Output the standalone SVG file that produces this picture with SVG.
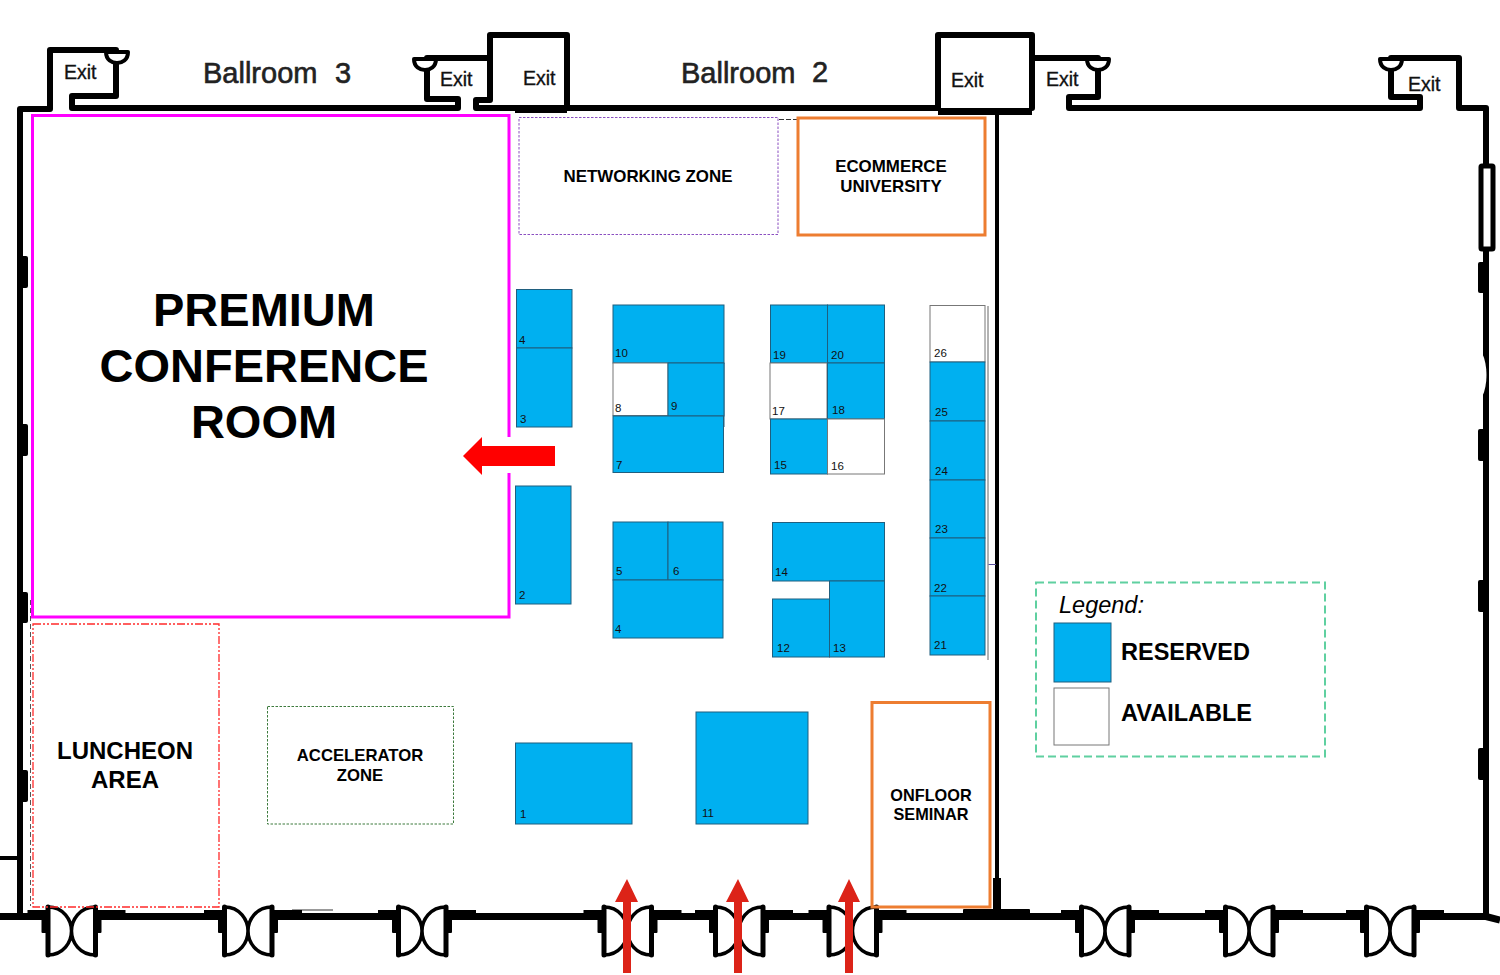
<svg xmlns="http://www.w3.org/2000/svg" width="1500" height="975" viewBox="0 0 1500 975">
<style>
text{font-family:"Liberation Sans",Arial,sans-serif;fill:#000}
.wall{fill:none;stroke:#000;stroke-width:6;stroke-linejoin:round;stroke-linecap:round}
.blk{fill:#000}
.door{fill:none;stroke:#000;stroke-width:3.500}
.jamb{fill:none;stroke:#000;stroke-width:5;stroke-linecap:round}
.b{fill:#00b0f0;stroke:#1f5f7f;stroke-width:1}
.a{fill:#fff;stroke:#777;stroke-width:1}
.n{font-size:11.500px;fill:#111}
.ex{font-size:19.500px;fill:#111;stroke:#111;stroke-width:.35}
.bal{font-size:29px;fill:#222;stroke:#222;stroke-width:.6}
.c{text-anchor:middle;font-weight:bold}
.up{fill:#dc2318}
</style>
<defs>
<g id="door">
<rect x="-24" y="905" width="48" height="52" fill="#fff"/>
<path class="jamb" d="M-23.500 907V955M24 907V955"/>
<path class="door" d="M-23.500 907C-8 907 0 920 0 931C0 942-8 955-23.500 955M24 907C8 907 0 920 0 931C0 942 8 955 24 955"/>
<rect class="blk" x="-30" y="910" width="7" height="23" rx="1"/>
<rect class="blk" x="24" y="910" width="6" height="23" rx="1"/>
<rect class="blk" x="-44" y="910" width="18" height="8"/>
<rect class="blk" x="26" y="910" width="28" height="8"/>
</g>
<path id="lamp" d="M-11 0H11C11 8 5 11 0 11C-5 11-11 8-11 0Z" fill="#fff" stroke="#000" stroke-width="4" stroke-linejoin="round"/>
</defs>

<g id="walls">
<path class="wall" d="M0 858H19" style="stroke-width:4;stroke-linecap:butt"/>
<path class="wall" d="M20 915V109H50V50H116V96H72V108H458V99H427V58H490V100H476V108H938V35H1032V108M490 58V35H567V108H476M567 108H938M1032 58H1098V97H1069V108H1420V97H1391V58H1459V108H1486V915"/>
<path class="wall" style="stroke-width:7;stroke-linecap:butt" d="M0 916.500H1486L1500 920"/>
<path class="wall" style="stroke-width:4;stroke-linecap:butt" d="M997 110V880"/>
<rect class="blk" x="993" y="878" width="8" height="34"/>
<rect class="blk" x="963" y="909" width="67" height="6" rx="1"/>
<rect class="blk" x="938" y="108" width="94" height="7"/>
<rect class="blk" x="515" y="108" width="52" height="5"/>
<rect class="blk" x="20" y="256" width="8" height="32" rx="2"/>
<rect class="blk" x="20" y="424" width="8" height="32" rx="2"/>
<rect class="blk" x="20" y="592" width="8" height="31" rx="2"/>
<rect class="blk" x="20" y="770" width="8" height="32" rx="2"/>
<rect x="1481" y="166" width="12" height="83" fill="#fff" stroke="#000" stroke-width="5" rx="1"/>
<rect class="blk" x="1478" y="262" width="8" height="31" rx="2"/>
<rect class="blk" x="1478" y="429" width="8" height="32" rx="2"/>
<rect class="blk" x="1478" y="580" width="8" height="32" rx="2"/>
<rect class="blk" x="1478" y="748" width="8" height="32" rx="2"/>
<path d="M1482 353C1488 365 1488 385 1482 397Z" fill="#fff"/>
<path d="M292 910H333" stroke="#777" stroke-width="1.500"/>
<use href="#door" x="71.500"/>
<use href="#door" x="248"/>
<use href="#door" x="422"/>
<use href="#door" x="627.500"/>
<use href="#door" x="739"/>
<use href="#door" x="852.500"/>
<use href="#door" x="1105"/>
<use href="#door" x="1249"/>
<use href="#door" x="1390"/>
<use href="#lamp" x="117" y="52"/>
<use href="#lamp" x="425" y="59"/>
<use href="#lamp" x="1098" y="59"/>
<use href="#lamp" x="1391" y="59"/>
<text class="ex" x="64" y="79">Exit</text>
<text class="ex" x="440" y="86">Exit</text>
<text class="ex" x="523" y="85">Exit</text>
<text class="ex" x="951" y="87">Exit</text>
<text class="ex" x="1046" y="86">Exit</text>
<text class="ex" x="1408" y="91">Exit</text>
<text class="bal" x="203" y="83">Ballroom</text>
<text class="bal" x="335" y="83">3</text>
<text class="bal" x="681" y="83">Ballroom</text>
<text class="bal" x="812" y="82">2</text>
</g>

<g id="zones">
<g id="premium-room">
<path d="M509 437V115.500H32.500V617H509V473" fill="none" stroke="#ff00ff" stroke-width="3"/>
<text class="c" x="264" y="326" font-size="47">PREMIUM</text>
<text class="c" x="264" y="382" font-size="47">CONFERENCE</text>
<text class="c" x="264" y="438" font-size="47">ROOM</text>
</g>
<g id="networking-zone">
<rect x="519" y="117.500" width="259" height="117" fill="none" stroke="#8a4fc0" stroke-width="1" stroke-dasharray="2.500 1.500"/>
<text class="c" x="648" y="182" font-size="16.900">NETWORKING ZONE</text>
</g>
<path d="M779 119.500H797" stroke="#333" stroke-width="1" stroke-dasharray="5 2"/>
<g id="ecommerce-university">
<rect x="798" y="118" width="187" height="117" fill="none" stroke="#ed7d31" stroke-width="3"/>
<text class="c" x="891" y="172" font-size="16.900">ECOMMERCE</text>
<text class="c" x="891" y="192" font-size="16.900">UNIVERSITY</text>
</g>
<path d="M30.500 600V906" fill="none" stroke="#555" stroke-width="1" stroke-dasharray="5 3"/>
<g id="luncheon-area">
<rect x="33" y="624" width="186" height="283" fill="none" stroke="#ff2a2a" stroke-width="1.300" stroke-dasharray="8 2 2 2 2 2"/>
<text class="c" x="125" y="759" font-size="24">LUNCHEON</text>
<text class="c" x="125" y="788" font-size="24">AREA</text>
</g>
<g id="accelerator-zone">
<rect x="267.500" y="706.500" width="186" height="117.500" fill="none" stroke="#3d7a3d" stroke-width="1" stroke-dasharray="2.500 1.500"/>
<text class="c" x="360" y="761" font-size="16.700">ACCELERATOR</text>
<text class="c" x="360" y="781" font-size="16.700">ZONE</text>
</g>
<g id="onfloor-seminar">
<rect x="872" y="702.500" width="118" height="204.500" fill="none" stroke="#ed7d31" stroke-width="3"/>
<text class="c" x="931" y="801" font-size="16.300">ONFLOOR</text>
<text class="c" x="931" y="820" font-size="16.300">SEMINAR</text>
</g>
</g>

<g id="booths">
<path d="M988 306V660" stroke="#666" stroke-width="1"/>
<path d="M988.500 564.500H996" stroke="#5a4fa0" stroke-width="1"/>
<path d="M724 363V427" stroke="#1f5f7f" stroke-width="1"/>
<g id="booth-4a"><rect class="b" x="516.500" y="289.500" width="55.500" height="58.500"/><text class="n" x="519" y="344">4</text></g>
<g id="booth-3"><rect class="b" x="516.500" y="348" width="55.500" height="79"/><text class="n" x="520" y="423">3</text></g>
<g id="booth-2"><rect class="b" x="515.500" y="486" width="55.500" height="118"/><text class="n" x="519" y="599">2</text></g>
<g id="booth-10"><rect class="b" x="613" y="305" width="111" height="58"/><text class="n" x="615" y="357">10</text></g>
<g id="booth-8"><rect class="a" x="613" y="363" width="55" height="52.500"/><text class="n" x="615" y="412">8</text></g>
<g id="booth-9"><rect class="b" x="668" y="363" width="56" height="53"/><text class="n" x="671" y="410">9</text></g>
<g id="booth-7"><rect class="b" x="613" y="416" width="110.500" height="56.500"/><text class="n" x="616" y="469">7</text></g>
<g id="booth-5"><rect class="b" x="613" y="522" width="55" height="58"/><text class="n" x="616" y="575">5</text></g>
<g id="booth-6"><rect class="b" x="668" y="522" width="55" height="58"/><text class="n" x="673" y="575">6</text></g>
<g id="booth-4b"><rect class="b" x="613" y="580" width="110" height="58"/><text class="n" x="615" y="633">4</text></g>
<g id="booth-19"><rect class="b" x="770.500" y="305" width="57" height="58"/><text class="n" x="773" y="359">19</text></g>
<g id="booth-20"><rect class="b" x="827.500" y="305" width="57" height="58"/><text class="n" x="831" y="359">20</text></g>
<g id="booth-17"><rect class="a" x="770" y="363" width="57" height="56"/><text class="n" x="772" y="415">17</text></g>
<g id="booth-18"><rect class="b" x="827.500" y="363" width="57" height="56"/><text class="n" x="832" y="414">18</text></g>
<g id="booth-15"><rect class="b" x="770.500" y="419" width="57" height="55"/><text class="n" x="774" y="469">15</text></g>
<g id="booth-16"><rect class="a" x="827.500" y="419" width="57" height="55"/><text class="n" x="831" y="470">16</text></g>
<g id="booth-14"><rect class="b" x="772.500" y="522.500" width="112" height="58.500"/><text class="n" x="775" y="576">14</text></g>
<g id="booth-13"><rect class="b" x="829.500" y="581" width="55" height="76"/><text class="n" x="833" y="652">13</text></g>
<g id="booth-12"><rect class="b" x="772.500" y="599" width="57" height="58"/><text class="n" x="777" y="652">12</text></g>
<g id="booth-26"><rect class="a" x="930" y="305.500" width="55" height="56.500"/><text class="n" x="934" y="357">26</text></g>
<g id="booth-25"><rect class="b" x="930" y="362" width="55" height="59"/><text class="n" x="935" y="416">25</text></g>
<g id="booth-24"><rect class="b" x="930" y="421" width="55" height="59"/><text class="n" x="935" y="475">24</text></g>
<g id="booth-23"><rect class="b" x="930" y="480" width="55" height="58"/><text class="n" x="935" y="533">23</text></g>
<g id="booth-22"><rect class="b" x="930" y="538" width="55" height="58"/><text class="n" x="934" y="592">22</text></g>
<g id="booth-21"><rect class="b" x="930" y="596" width="55" height="59"/><text class="n" x="934" y="649">21</text></g>
<g id="booth-1"><rect class="b" x="515.500" y="743" width="116.500" height="81"/><text class="n" x="520" y="818">1</text></g>
<g id="booth-11"><rect class="b" x="696" y="712" width="112" height="112"/><text class="n" x="702" y="817">11</text></g>
</g>

<g id="legend">
<rect x="1036" y="582.500" width="289" height="174" fill="none" stroke="#5fd0a0" stroke-width="2" stroke-dasharray="8 4"/>
<text x="1059" y="613" font-size="23.500" font-style="italic" fill="#222">Legend:</text>
<rect class="b" x="1054" y="623" width="57" height="59"/>
<rect class="a" x="1054" y="688" width="55" height="57"/>
<text x="1121" y="660" font-size="23.500" font-weight="bold">RESERVED</text>
<text x="1121" y="721" font-size="23.500" font-weight="bold">AVAILABLE</text>
</g>

<g id="connectors">
<path d="M555 446V466H482V475L463 456L482 437V446Z" fill="#ff0000"/>
<path class="up" d="M623 973V902H615L627 879L638 902H631V973Z"/>
<path class="up" d="M734 973V902H726L738 879L749 902H742V973Z"/>
<path class="up" d="M845 973V902H838L849 879L860 902H853V973Z"/>
</g>
</svg>
